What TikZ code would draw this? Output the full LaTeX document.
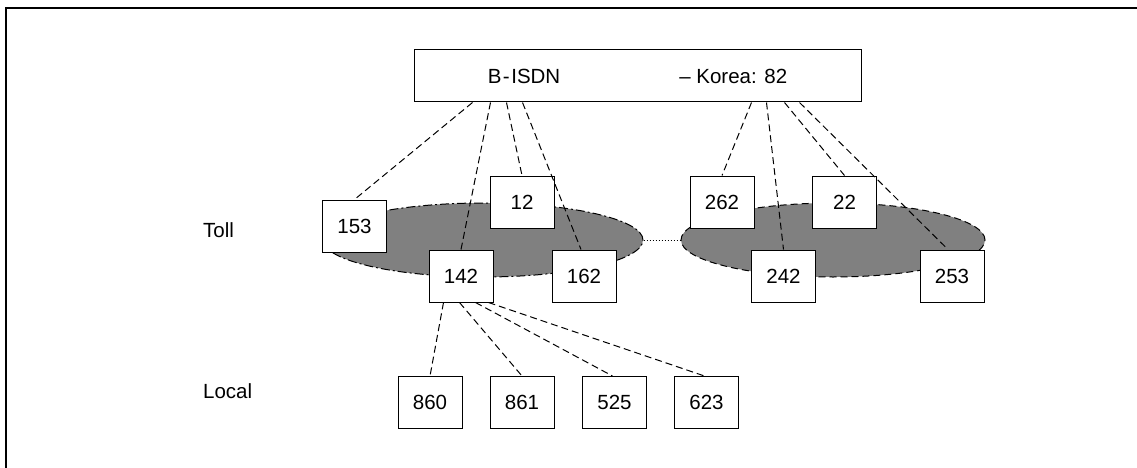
\documentclass[tikz,border=0pt]{standalone}
\usepackage{fontspec}
\setmainfont{Liberation Sans}
\usetikzlibrary{shapes.geometric}
\begin{document}
\begin{tikzpicture}[x=1pt,y=-1pt,
  every node/.style={font=\fontsize{20.5}{24}\selectfont},
  numbox/.style={draw,line width=1pt,fill=white,minimum width=64pt,minimum height=52pt,inner sep=0pt},
  link/.style={line width=1pt,dash pattern=on 7pt off 4pt},
  cloudA/.style={ellipse,fill=gray,line width=1pt,dash pattern=on 9pt off 3pt on 2pt off 3pt,draw,inner sep=0pt},
  cloudB/.style={ellipse,fill=gray,line width=1pt,dash pattern=on 7pt off 4pt,draw,inner sep=0pt}]
\useasboundingbox (0,0) rectangle (1137,468);
\draw[line width=2pt] (6,468) -- (6,8) -- (1137,8);

\node[cloudA,minimum width=320pt,minimum height=74pt] (e1) at (483,240) {};
\node[cloudB,minimum width=304pt,minimum height=74pt] (e2) at (833,240) {};
\draw[line width=1pt,dotted] (e1.east) -- (e2.west);

\node[draw,line width=1pt,fill=white,minimum width=447pt,minimum height=52pt,inner sep=0pt] (top) at (637.5,76)
  {B{\kern1.5pt}-{\kern1.5pt}ISDN\hspace{119pt}– Korea: 82};

\node[numbox] (b153) at (354.5,226) {153};
\node[numbox] (b12) at (522,202) {12};
\node[numbox] (b142) at (461,276) {142};
\node[numbox] (b162) at (584,276) {162};
\node[numbox] (b262) at (722,202) {262};
\node[numbox] (b22) at (844.5,202) {22};
\node[numbox] (b242) at (783.5,276) {242};
\node[numbox] (b253) at (952,276) {253};
\node[numbox] (b860) at (430,402.5) {860};
\node[numbox] (b861) at (522,402.5) {861};
\node[numbox] (b525) at (614.5,402.5) {525};
\node[numbox] (b623) at (706.5,402.5) {623};

\node[anchor=base west,inner sep=0pt] (toll) at (203,237) {Toll};
\node[anchor=base west,inner sep=0pt] (local) at (203,398) {Local};

\draw[link] ([xshift=59pt]top.south west) -- (b153.north);
\draw[link] ([xshift=77pt]top.south west) -- (b142.north);
\draw[link] ([xshift=93pt]top.south west) -- (b12.north);
\draw[link] ([xshift=109pt]top.south west) -- ([xshift=-3pt]b162.north);
\draw[link] ([xshift=338pt]top.south west) -- (b262.north);
\draw[link] ([xshift=353pt]top.south west) -- (b242.north);
\draw[link] ([xshift=371pt]top.south west) -- (b22.north);
\draw[link] ([xshift=386pt]top.south west) -- ([xshift=-4pt]b253.north);

\draw[link] ([xshift=15pt]b142.south west) -- (b860.north);
\draw[link] ([xshift=31pt]b142.south west) -- (b861.north);
\draw[link] ([xshift=47pt]b142.south west) -- ([xshift=-2pt]b525.north);
\draw[link] ([xshift=60pt]b142.south west) -- ([xshift=-2pt]b623.north);
\end{tikzpicture}
\end{document}
